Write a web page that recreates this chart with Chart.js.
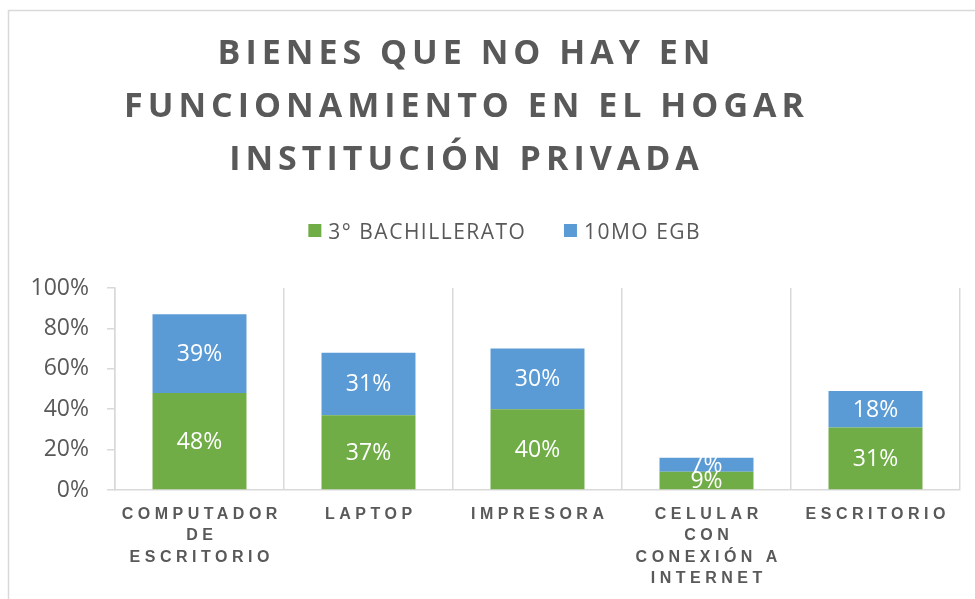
<!DOCTYPE html>
<html>
<head>
<meta charset="utf-8">
<title>Bienes que no hay en funcionamiento</title>
<script src="https://cdn.jsdelivr.net/npm/chart.js@4.4.0/dist/chart.umd.min.js"></script>
<style>
  html, body { margin: 0; padding: 0; background: #fff; }
  canvas { display: block; }
</style>
</head>
<body>
<canvas id="bienesChart" width="975" height="599"></canvas>
<script>
// data
const titleLines = ["BIENES QUE NO HAY EN", "FUNCIONAMIENTO EN EL HOGAR", "INSTITUCIÓN PRIVADA"];
const categories = [
  ["COMPUTADOR", "DE", "ESCRITORIO"],
  ["LAPTOP"],
  ["IMPRESORA"],
  ["CELULAR", "CON", "CONEXIÓN A", "INTERNET"],
  ["ESCRITORIO"]
];
const bachillerato = [48, 37, 40, 9, 31];
const egb = [39, 31, 30, 7, 18];
const seriesNames = ["3° BACHILLERATO", "10MO EGB"];
const seriesColors = ["#70ad47", "#5b9bd5"];

const textGray = "#595959";
const lineGray = "#d9d9d9";

// canvas letterSpacing adds space after the last glyph too, so take it off before centring
function spacedText(ctx, text, cx, y, spacing) {
  ctx.letterSpacing = spacing + "px";
  const w = ctx.measureText(text).width - spacing;
  ctx.textAlign = "left";
  ctx.fillText(text, cx - w / 2, y);
  return w;
}

const decorPlugin = {
  id: "decor",
  beforeDraw(chart) {
    const ctx = chart.ctx;
    ctx.save();
    ctx.strokeStyle = lineGray;
    ctx.lineWidth = 1.5;
    ctx.beginPath();
    ctx.moveTo(8.5, chart.height);
    ctx.lineTo(8.5, 10.5);
    ctx.lineTo(chart.width, 10.5);
    ctx.stroke();
    ctx.restore();
  },
  afterDatasetsDraw(chart) {
    const ctx = chart.ctx;
    ctx.save();
    ctx.fillStyle = "#ffffff";
    ctx.font = "23px 'Open Sans'";
    ctx.textBaseline = "middle";
    chart.data.datasets.forEach((ds, di) => {
      chart.getDatasetMeta(di).data.forEach((bar, i) => {
        const cy = (bar.y + bar.base) / 2;
        spacedText(ctx, ds.data[i] + "%", bar.x, cy + 1, 0);
      });
    });
    ctx.restore();
  },
  afterDraw(chart) {
    const ctx = chart.ctx;
    ctx.save();
    ctx.fillStyle = textGray;
    ctx.textBaseline = "alphabetic";

    // title
    ctx.font = "bold 34px 'Open Sans'";
    titleLines.forEach((ln, i) => spacedText(ctx, ln, 464, 64 + i * 53, 5));

    // legend
    ctx.font = "21px 'Open Sans'";
    ctx.letterSpacing = "1.5px";
    const widths = seriesNames.map(n => ctx.measureText(n).width - 1.5);
    const box = 13, gap = 7, itemGap = 39;
    const total = widths.reduce((s, w) => s + box + gap + w, 0) + itemGap;
    let x = 504 - total / 2;
    seriesNames.forEach((name, i) => {
      ctx.fillStyle = seriesColors[i];
      ctx.fillRect(x, 224, box, box);
      ctx.fillStyle = textGray;
      ctx.textAlign = "left";
      ctx.fillText(name, x + box + gap, 238.5);
      x += box + gap + widths[i] + itemGap;
    });

    // category labels, bold and spaced out
    const xs = chart.scales.x;
    ctx.font = "bold 16px 'Liberation Sans'";
    categories.forEach((lines, i) => {
      const cx = xs.getPixelForValue(i);
      lines.forEach((ln, j) => spacedText(ctx, ln, cx, xs.top + 28.5 + j * 21.5, 4.5));
    });
    ctx.restore();
  }
};

new Chart(document.getElementById("bienesChart").getContext("2d"), {
  type: "bar",
  data: {
    labels: categories.map(l => l.join(" ")),
    datasets: [
      { label: seriesNames[0], data: bachillerato, backgroundColor: seriesColors[0] },
      { label: seriesNames[1], data: egb, backgroundColor: seriesColors[1] }
    ]
  },
  options: {
    responsive: false,
    animation: false,
    devicePixelRatio: 1,
    layout: { padding: { top: 288, left: 27, right: 15, bottom: 0 } },
    datasets: { bar: { barPercentage: 0.556, categoryPercentage: 1 } },
    plugins: {
      legend: { display: false },
      title: { display: false },
      tooltip: { enabled: false }
    },
    scales: {
      x: {
        stacked: true,
        afterFit: scale => { scale.height = 109; },
        ticks: { display: false },
        grid: { offset: true, drawTicks: false, color: lineGray, lineWidth: 1.5 },
        border: { color: lineGray, width: 1.5 }
      },
      y: {
        stacked: true,
        min: 0,
        max: 100,
        afterFit: scale => { scale.width = 88; },
        ticks: {
          stepSize: 20,
          padding: 18,
          color: textGray,
          font: { family: "'Open Sans'", size: 23 },
          callback: v => v + "%"
        },
        grid: { drawOnChartArea: false, tickLength: 8, color: lineGray, lineWidth: 1.5 },
        border: { color: lineGray, width: 1.5 }
      }
    }
  },
  plugins: [decorPlugin]
});
</script>
</body>
</html>
